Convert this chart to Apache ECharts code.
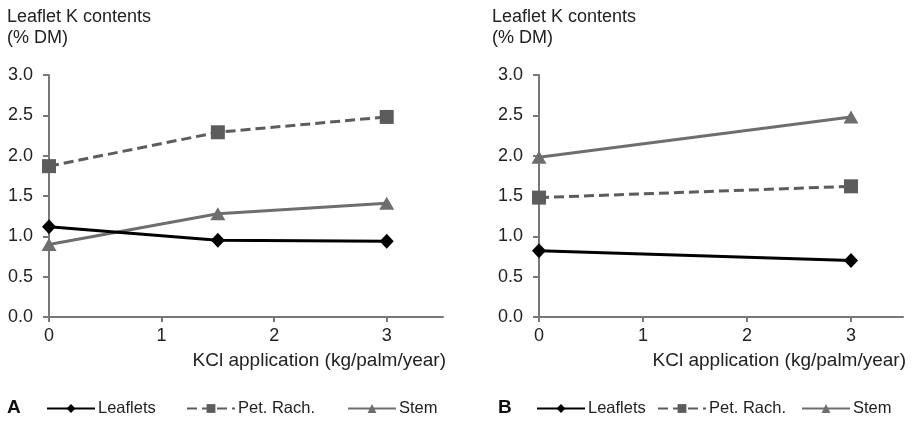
<!DOCTYPE html>
<html>
<head>
<meta charset="utf-8">
<script src="https://cdn.jsdelivr.net/npm/echarts@6/dist/echarts.min.js"></script>
<style>
html,body{margin:0;padding:0;background:#fff;}
#chart{width:912px;height:421px;}
</style>
</head>
<body>
<div id="chart"></div>
<script>
// ---- data ----
const seriesNames = ['Leaflets', 'Pet. Rach.', 'Stem'];
const xA = [0, 1.5, 3];
const leafletsA = [1.12, 0.95, 0.94];
const petRachA = [1.87, 2.29, 2.48];
const stemA = [0.90, 1.28, 1.41];
const xB = [0, 3];
const leafletsB = [0.82, 0.70];
const petRachB = [1.48, 1.62];
const stemB = [1.98, 2.48];
const xTicks = [0, 1, 2, 3];
const yTitle = 'Leaflet K contents\n(% DM)';
const xTitle = 'KCl application (kg/palm/year)';
const panelLabels = ['A', 'B'];

// ---- styles ----
const FONT = '"Liberation Sans", Arial, Helvetica, sans-serif';
const TXT = '#222';
const AXIS = '#787878';
const styles = [
  {color: '#000000', type: 'solid', symbol: 'diamond', size: [14, 15]},
  {color: '#5c5c5c', type: [10, 5], symbol: 'rect', size: 14},
  {color: '#6e6e6e', type: 'solid', symbol: 'triangle', size: [15, 13]}
];

function pair(xs, ys) { return xs.map((x, i) => [x, ys[i]]); }

const panels = [
  {grid: {left: 49, top: 75, width: 394, height: 242}, data: [leafletsA, petRachA, stemA], xs: xA,
   titleLeft: 7, xTitleRight: 446, label: panelLabels[0], labelX: 7,
   legendLefts: [46, 186, 347]},
  {grid: {left: 539, top: 75, width: 364, height: 242}, data: [leafletsB, petRachB, stemB], xs: xB,
   titleLeft: 492, xTitleRight: 906, label: panelLabels[1], labelX: 498,
   legendLefts: [536, 657, 801]}
];

const option = {
  animation: false,
  backgroundColor: '#fff',
  textStyle: {fontFamily: FONT},
  grid: panels.map(p => Object.assign({containLabel: false}, p.grid)),
  xAxis: panels.map((p, i) => ({
    type: 'value', gridIndex: i, min: 0, max: 3.5, interval: 1,
    axisLine: {show: true, onZero: false, lineStyle: {color: AXIS, width: 2}},
    axisTick: {show: true, length: 5, customValues: xTicks, lineStyle: {color: AXIS, width: 2}},
    axisLabel: {customValues: xTicks, color: TXT, fontSize: 18, margin: 10, fontFamily: FONT},
    splitLine: {show: false}
  })),
  yAxis: panels.map((p, i) => ({
    type: 'value', gridIndex: i, min: 0, max: 3, interval: 0.5,
    axisLine: {show: true, lineStyle: {color: AXIS, width: 2}},
    axisTick: {show: true, length: 6, lineStyle: {color: AXIS, width: 2}},
    axisLabel: {color: TXT, fontSize: 18, margin: 16, fontFamily: FONT,
      formatter: v => v.toFixed(1)},
    splitLine: {show: false}
  })),
  title: panels.map(p => ({
    text: yTitle, left: p.titleLeft, top: 7, padding: 0,
    textStyle: {fontSize: 18, fontWeight: 'normal', color: TXT, lineHeight: 21, fontFamily: FONT}
  })),
  legend: [],
  series: [],
  graphic: []
};

panels.forEach((p, pi) => {
  seriesNames.forEach((name, si) => {
    const st = styles[si];
    option.series.push({
      type: 'line', name: name, xAxisIndex: pi, yAxisIndex: pi,
      data: pair(p.xs, p.data[si]),
      symbol: st.symbol, symbolSize: st.size, showSymbol: true,
      itemStyle: {color: st.color},
      lineStyle: {color: st.color, width: 3, type: st.type},
      z: 3 - si
    });
    option.legend.push({
      data: [name], left: p.legendLefts[si], top: 400, padding: 0,
      itemWidth: 48, itemHeight: 11, itemGap: 0,
      selectedMode: false,
      textStyle: {fontSize: 16.5, color: TXT, fontFamily: FONT, padding: [0, 0, 0, -2]}
    });
  });
  option.graphic.push({
    type: 'text', x: p.xTitleRight, y: 361,
    style: {text: xTitle, fill: TXT, font: '19px ' + FONT, textAlign: 'right', textVerticalAlign: 'middle'}
  });
  option.graphic.push({
    type: 'text', x: p.labelX, y: 408,
    style: {text: p.label, fill: '#111', font: 'bold 19px ' + FONT, textAlign: 'left', textVerticalAlign: 'middle'}
  });
});

const chart = echarts.init(document.getElementById('chart'), null, {renderer: 'canvas'});
chart.setOption(option);
</script>
</body>
</html>
